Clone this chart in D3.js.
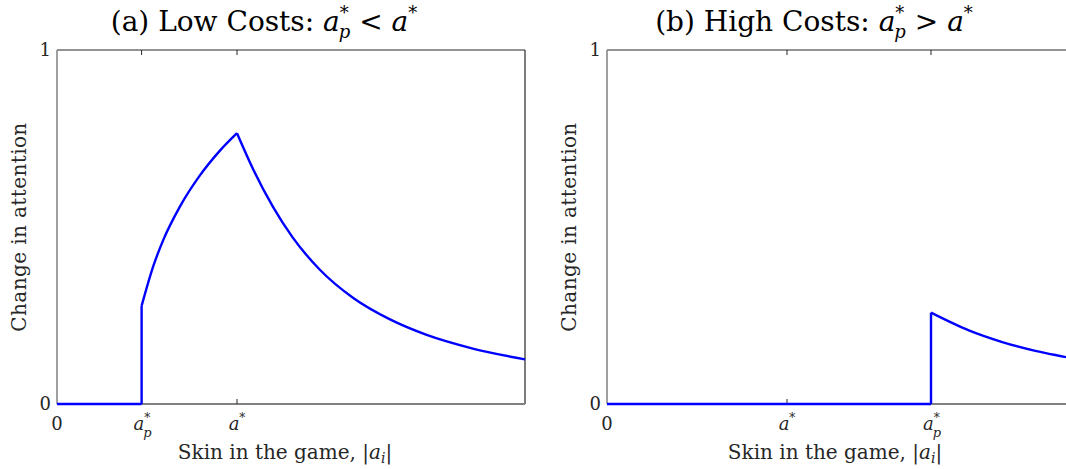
<!DOCTYPE html>
<html><head><meta charset="utf-8">
<script src="https://cdn.jsdelivr.net/npm/d3@7"></script>
<style>
body{margin:0;background:#fff;}
svg{display:block;}
text{font-family:"DejaVu Serif","Liberation Serif",serif;fill:#262626;}
</style></head>
<body><svg id="c" width="1066" height="469"></svg>
<script>
// x in units of a*, y = change in attention
const xDomain = [0, 2.6];
const yDomain = [0, 1];
const yTicks = [0, 1];

// Panel (a): low costs
const lowTicks = [0, 0.47, 1];
const lowTickLabels = ["0", "ap", "a"];
const lowFlatX = [0, 0.47];
const lowFlatY = [0, 0];
const lowJumpX = [0.47, 0.47];
const lowJumpY = [0, 0.277];
const lowRiseX = [0.47, 0.534, 0.59, 0.682, 0.793, 0.904, 1.0];
const lowRiseY = [0.277, 0.388, 0.463, 0.557, 0.645, 0.715, 0.765];
const lowFallX = [1.0, 1.089, 1.2, 1.31, 1.459, 1.65, 1.85, 2.05, 2.3, 2.6];
const lowFallY = [0.765, 0.664, 0.557, 0.47, 0.38, 0.298, 0.239, 0.196, 0.158, 0.126];

// Panel (b): high costs
const highTicks = [0, 1, 1.8];
const highTickLabels = ["0", "a", "ap"];
const highFlatX = [0, 1.8];
const highFlatY = [0, 0];
const highJumpX = [1.8, 1.8];
const highJumpY = [0, 0.258];
const highFallX = [1.8, 2.01, 2.196, 2.38, 2.563, 2.6];
const highFallY = [0.258, 0.208, 0.175, 0.150, 0.131, 0.127];

const titles = ["(a) Low Costs: ", "(b) High Costs: "];
const relations = [" < ", " > "];
const yLabel = "Change in attention";
const xLabel = "Skin in the game, ";

const svg = d3.select("#c");
const blue = "#0000ff";

function zip(xs, ys){ return xs.map((x,i)=>[x, ys[i]]); }

function panel(opt){
  const x = d3.scaleLinear().domain(xDomain).range([opt.x0, opt.x0 + 468]);
  const y = d3.scaleLinear().domain(yDomain).range([404, 50]);
  const g = svg.append("g");
  const [r0, r1] = x.range();
  // frame
  g.append("line").attr("x1", r0).attr("x2", r1).attr("y1", y(1)).attr("y2", y(1)).attr("stroke", "#262626").attr("stroke-width", 1);
  g.append("line").attr("x1", r1).attr("x2", r1).attr("y1", y(1)).attr("y2", y(0)).attr("stroke", "#262626").attr("stroke-width", 1.2);
  g.append("line").attr("x1", r0).attr("x2", r0).attr("y1", y(1)).attr("y2", y(0)).attr("stroke", "#808080").attr("stroke-width", 1.5);
  g.append("line").attr("x1", r0).attr("x2", r1).attr("y1", y(0)).attr("y2", y(0)).attr("stroke", "#808080").attr("stroke-width", 1.8);
  // ticks (inward) top and bottom
  opt.ticks.forEach(t=>{
    if (t === 0) return;
    g.append("line").attr("x1", x(t)).attr("x2", x(t)).attr("y1", y(1)).attr("y2", y(1)+5).attr("stroke", "#262626");
    g.append("line").attr("x1", x(t)).attr("x2", x(t)).attr("y1", y(0)).attr("y2", y(0)-5).attr("stroke", "#262626");
  });
  // x tick labels
  opt.ticks.forEach((t,i)=>{
    const lab = opt.labels[i];
    const tx = g.append("text").attr("x", x(t)).attr("y", 430).attr("text-anchor", "middle").style("font-size", "18px");
    if (lab === "0") { tx.text("0"); }
    else if (lab === "a") {
      tx.append("tspan").style("font-style", "italic").text("a");
      tx.append("tspan").attr("dy", -8).style("font-size", "12px").text("*");
    } else {
      tx.attr("text-anchor", "start").attr("x", x(t) - 8);
      tx.append("tspan").style("font-style", "italic").text("a");
      tx.append("tspan").attr("dy", -8).style("font-size", "12px").text("*");
      tx.append("tspan").attr("dx", -7).attr("dy", 15).style("font-size", "13px").style("font-style", "italic").text("p");
    }
  });
  // y tick labels
  yTicks.forEach(t=>{
    g.append("text").attr("x", r0 - 6).attr("y", y(t)).attr("dy", "0.35em").attr("text-anchor", "end").style("font-size", "18px").text(String(t));
  });
  // y label
  g.append("text").attr("transform", `translate(${r0 - 31},${y(0.5)}) rotate(-90)`).attr("text-anchor", "middle")
    .style("font-size", "20px").style("letter-spacing", "0.4px").text(yLabel);
  // x label
  const xl = g.append("text").attr("x", r0 + 228).attr("y", 459).attr("text-anchor", "middle").style("font-size", "20px");
  xl.append("tspan").text(xLabel + "|");
  xl.append("tspan").style("font-style", "italic").text("a");
  xl.append("tspan").attr("dy", 4).style("font-size", "14px").style("font-style", "italic").text("i");
  xl.append("tspan").attr("dy", -4).text("|");
  // title
  const tt = g.append("text").attr("x", r0 + 207).attr("y", 31).attr("text-anchor", "middle").style("font-size", "28px").style("fill", "#000");
  tt.append("tspan").text(opt.title);
  tt.append("tspan").style("font-style", "italic").text("a");
  tt.append("tspan").attr("dy", -12).style("font-size", "18px").text("*");
  tt.append("tspan").attr("dx", -10).attr("dy", 19).style("font-size", "18px").style("font-style", "italic").text("p");
  tt.append("tspan").attr("dy", -7).text(opt.rel);
  tt.append("tspan").style("font-style", "italic").text("a");
  tt.append("tspan").attr("dy", -12).style("font-size", "18px").text("*");
  // curves
  const lin = d3.line().x(d=>x(d[0])).y(d=>y(d[1]));
  const smooth = d3.line().x(d=>x(d[0])).y(d=>y(d[1])).curve(d3.curveMonotoneX);
  opt.lin.forEach(seg=>{
    g.append("path").attr("d", lin(seg)).attr("fill","none").attr("stroke", blue).attr("stroke-width", 2.4).attr("stroke-linejoin","miter");
  });
  opt.smooth.forEach(seg=>{
    g.append("path").attr("d", smooth(seg)).attr("fill","none").attr("stroke", blue).attr("stroke-width", 2.4);
  });
}

panel({x0: 57, ticks: lowTicks, labels: lowTickLabels, title: titles[0], rel: relations[0],
  lin: [zip(lowFlatX, lowFlatY), zip(lowJumpX, lowJumpY)],
  smooth: [zip(lowRiseX, lowRiseY), zip(lowFallX, lowFallY)]});
panel({x0: 607, ticks: highTicks, labels: highTickLabels, title: titles[1], rel: relations[1],
  lin: [zip(highFlatX, highFlatY), zip(highJumpX, highJumpY)],
  smooth: [zip(highFallX, highFallY)]});
</script></body></html>
